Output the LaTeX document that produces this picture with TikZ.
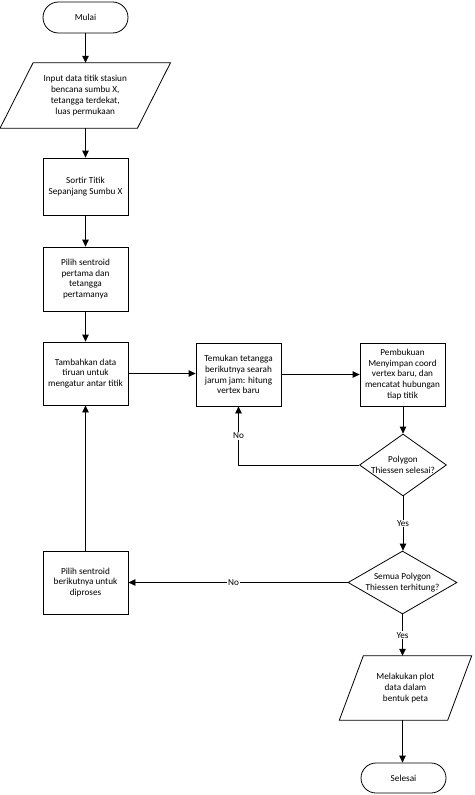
\documentclass[tikz,border=0pt]{standalone}
\usepackage{fontspec}
\setmainfont{Carlito}
\usetikzlibrary{shapes.geometric,shapes.misc,arrows.meta}
\begin{document}
\begin{tikzpicture}[x=1pt,y=-1pt,
  every node/.style={font=\fontsize{9.2}{10.8}\selectfont, align=center, inner sep=0pt},
  proc/.style={draw, line width=0.8pt, minimum width=85pt},
  term/.style={draw, line width=0.8pt, rounded rectangle, minimum width=85pt},
  io/.style={minimum width=#1},
  dia/.style={draw, line width=0.8pt, diamond, inner sep=0pt},
  arr/.style={line width=0.8pt, -{Triangle[length=7pt,width=6.5pt]}},
  ln/.style={line width=0.8pt},
  lbl/.style={fill=white, inner sep=1pt}
]
\useasboundingbox (0,0) rectangle (474,795);

% nodes
\node[term, minimum height=31pt] (mulai) at (85.5,17.5) {Mulai};
\node[io=137pt, minimum height=65pt] (input) at (85.25,95.5) {Input data titik stasiun\\bencana sumbu X,\\tetangga terdekat,\\luas permukaan};
\draw[ln] ([xshift=16.5pt]input.north west) -- ([xshift=16.5pt]input.north east)
  -- ([xshift=-16.5pt]input.south east) -- ([xshift=-16.5pt]input.south west) -- cycle;
\node[proc, minimum height=57pt] (sortir) at (85.5,186.5) {Sortir Titik\\Sepanjang Sumbu X};
\node[proc, minimum height=64pt] (pilih) at (85.5,279) {Pilih sentroid\\pertama dan\\tetangga\\pertamanya};
\node[proc, minimum height=63pt] (tambah) at (85.5,373.5) {Tambahkan data\\tiruan untuk\\mengatur antar titik};
\node[proc, minimum height=63pt] (temukan) at (238.5,374.5) {Temukan tetangga\\berikutnya searah\\jarum jam: hitung\\vertex baru};
\node[proc, minimum height=63pt] (buku) at (402.5,374.5) {Pembukuan\\Menyimpan coord\\vertex baru, dan\\mencatat hubungan\\tiap titik};
\node[dia, minimum width=87pt, minimum height=62pt] (poly) at (403,465) {};
\node at (poly.center) {Polygon\\Thiessen selesai?};
\node[dia, minimum width=109pt, minimum height=63pt] (semua) at (402.5,582.5) {};
\node at (semua.center) {Semua Polygon\\Thiessen terhitung?};
\node[proc, minimum height=63pt] (pilih2) at (85.5,582.5) {Pilih sentroid\\berikutnya untuk\\diproses};
\node[io=108pt, minimum height=64pt] (plot) at (405.5,688) {Melakukan plot\\data dalam\\bentuk peta};
\draw[ln] ([xshift=12pt]plot.north west) -- ([xshift=12pt]plot.north east)
  -- ([xshift=-12pt]plot.south east) -- ([xshift=-12pt]plot.south west) -- cycle;
\node[term, minimum height=30pt] (selesai) at (403.5,778) {Selesai};

% connectors
\draw[arr] (mulai.south) -- (mulai.south |- input.north);
\draw[arr] (input.south -| mulai.south) -- (sortir.north);
\draw[arr] (sortir) -- (pilih);
\draw[arr] (pilih) -- (tambah);
\draw[arr] (tambah.east) -- (tambah.east -| temukan.west);
\draw[arr] (temukan.east) -- (temukan.east -| buku.west);
\draw[arr] (buku.south -| poly.north) -- (poly.north);
\coordinate (c1) at (temukan.south |- poly.west);
\draw[arr] (poly.west) -- (c1) -- node[lbl, pos=0.5] {No} (temukan.south);
\draw[arr] (poly.south) -- node[lbl, pos=0.5] {Yes} (poly.south |- semua.north);
\draw[arr] (semua.west) -- node[lbl, pos=0.52] {No} (pilih2.east);
\draw[arr] (semua.south) -- node[lbl, pos=0.5] {Yes} (semua.south |- plot.north);
\draw[arr] (semua.south |- plot.south) -- (semua.south |- selesai.north);
\draw[arr] (pilih2.north) -- (tambah.south);
\end{tikzpicture}
\end{document}
